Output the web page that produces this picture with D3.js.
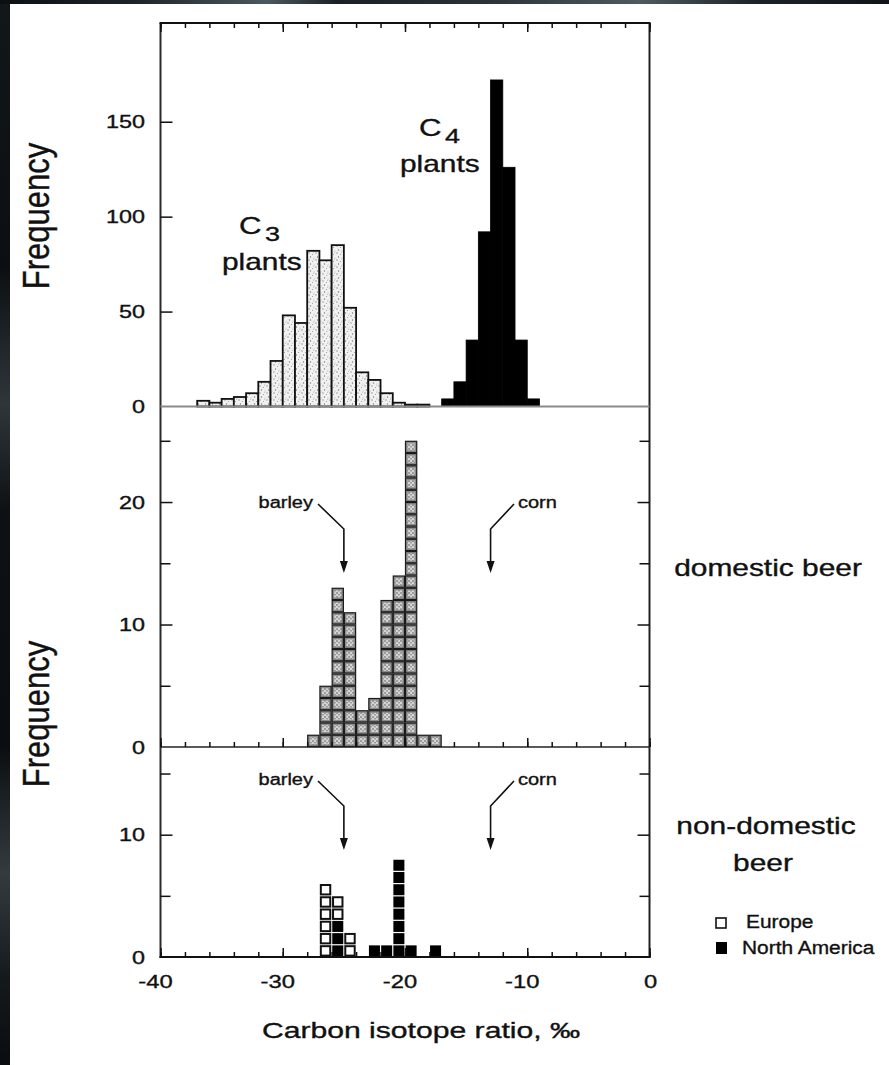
<!DOCTYPE html>
<html><head><meta charset="utf-8">
<script src="https://cdn.jsdelivr.net/npm/d3@7"></script>
<style>
html,body{margin:0;padding:0;background:#fff;}
svg{display:block;}
text{font-family:"Liberation Sans",Arial,Helvetica,sans-serif;fill:#111;stroke:#111;stroke-width:0.35px;}
</style>
</head><body>
<svg id="chart" width="889" height="1065"></svg>
<script>
// ---------------- data ----------------
const c3BinStart = [-37,-36,-35,-34,-33,-32,-31,-30,-29,-28,-27,-26,-25,-24,-23,-22,-21,-20,-19];
const c3Freq     = [3,2,4,5,7,13,24,48,44,82,77,85,52,18,14,7,2,1,1];
const c4BinStart = [-17,-16,-15,-14,-13,-12,-11,-10];
const c4Freq     = [4,13,35,92,172,126,35,4];
const domesticBinStart = [-28,-27,-26,-25,-24,-23,-22,-21,-20,-19,-18];
const domesticFreq     = [1,5,13,11,3,4,12,14,25,1,1];
const nonDomBinStart     = [-27,-26,-25,-23,-22,-21,-20,-18];
const nonDomNorthAmerica = [0,3,0,1,1,8,1,1];
const nonDomEurope       = [6,2,2,0,0,0,0,0];
const xTickValues = [-40,-30,-20,-10,0];
const xMinorTicks = d3.range(-40, 1, 2);
const topYTicks = [0,50,100,150];
const midYTicks = [0,10,20];
const midYMinor = [5,15,25];
const botYTicks = [0,10];
const botYMinor = [5,15];
const arrowTargets = [-25,-13];
const arrowLabels = ["barley","corn"];
const legendLabels = ["Europe","North America"];

// ---------------- layout ----------------
const svg = d3.select("#chart");
const L = 160.5, R = 649.5, TOP = 23, Z1 = 406.5, Z2 = 747, Z3 = 957;
const x = d3.scaleLinear([-40,0],[L,R]);
const yTop = d3.scaleLinear([0,202],[Z1,TOP]);
const yMid = d3.scaleLinear([0,27.8],[Z2,Z1]);
const yBot = d3.scaleLinear([0,17.17],[Z3,Z2]);

svg.append("rect").attr("width",889).attr("height",1065).attr("fill","#fff");

const defs = svg.append("defs");
const gl = defs.append("linearGradient").attr("id","leftBand").attr("x1",0).attr("y1",0).attr("x2",0).attr("y2",1);
[[0,"#12171a"],[0.25,"#0b0f12"],[0.38,"#2f363b"],[0.48,"#0d1114"],[0.7,"#0a0e10"],[0.82,"#343b40"],[0.92,"#14191c"],[1,"#0a0d0f"]]
  .forEach(s=>gl.append("stop").attr("offset",s[0]).attr("stop-color",s[1]));
const gt = defs.append("linearGradient").attr("id","topBand").attr("x1",0).attr("y1",0).attr("x2",1).attr("y2",0);
[[0,"#0b0f12"],[0.15,"#1d2429"],[0.3,"#4a5862"],[0.38,"#1a2025"],[0.55,"#2a333a"],[0.72,"#4d5a63"],[0.85,"#1c2328"],[1,"#101417"]]
  .forEach(s=>gt.append("stop").attr("offset",s[0]).attr("stop-color",s[1]));

const p1 = defs.append("pattern").attr("id","stipple").attr("patternUnits","userSpaceOnUse").attr("width",7).attr("height",7);
p1.append("rect").attr("width",7).attr("height",7).attr("fill","#f1f1f1");
[[1,1,0.7,"#888"],[4.5,2.5,0.6,"#999"],[2.5,5,0.7,"#7a7a7a"],[6,6,0.5,"#aaa"],[5.5,0.5,0.4,"#999"]]
  .forEach(d=>p1.append("circle").attr("cx",d[0]).attr("cy",d[1]).attr("r",d[2]).attr("fill",d[3]));
const p2 = defs.append("pattern").attr("id","speck").attr("patternUnits","userSpaceOnUse").attr("width",4).attr("height",4);
p2.append("rect").attr("width",4).attr("height",4).attr("fill","#d4d4d4");
[[1,1,0.8,"#555"],[3,2.8,0.7,"#666"]].forEach(d=>p2.append("circle").attr("cx",d[0]).attr("cy",d[1]).attr("r",d[2]).attr("fill",d[3]));

svg.append("rect").attr("x",0).attr("y",0).attr("width",10).attr("height",1065).attr("fill","url(#leftBand)");
svg.append("rect").attr("x",0).attr("y",0).attr("width",889).attr("height",4).attr("fill","url(#topBand)");

function txt(px,py,s,size,anchor,sx){
  return svg.append("text").attr("transform",`translate(${px},${py}) scale(${sx},1)`)
    .attr("text-anchor",anchor).attr("font-size",size).text(s);
}

// ---------------- top panel ----------------
const gTop = svg.append("g");
gTop.selectAll("rect.c3").data(c3BinStart).join("rect").attr("class","c3")
  .attr("x",d=>x(d)).attr("width",d=>x(d+1)-x(d))
  .attr("y",(d,i)=>yTop(c3Freq[i])).attr("height",(d,i)=>yTop(0)-yTop(c3Freq[i]))
  .attr("fill","url(#stipple)").attr("stroke","#111").attr("stroke-width",1.8);
gTop.selectAll("rect.c4").data(c4BinStart).join("rect").attr("class","c4")
  .attr("x",d=>x(d)).attr("width",d=>x(d+1)-x(d))
  .attr("y",(d,i)=>yTop(c4Freq[i])).attr("height",(d,i)=>yTop(0)-yTop(c4Freq[i]))
  .attr("fill","#000").attr("stroke","#000").attr("stroke-width",0.8);

// ---------------- middle panel ----------------
const gMid = svg.append("g");
domesticBinStart.forEach((b,i)=>{
  d3.range(domesticFreq[i]).forEach(k=>{
    const x0 = x(b), w = x(b+1)-x(b), y0 = yMid(k+1), h = yMid(k)-yMid(k+1);
    gMid.append("rect").attr("x",x0+0.5).attr("y",y0+0.5).attr("width",w-1).attr("height",h-1)
      .attr("fill","#8a8a8a").attr("stroke","#1a1a1a").attr("stroke-width",1.2);
    gMid.append("rect").attr("x",x0+2.6).attr("y",y0+2.6).attr("width",w-5.2).attr("height",h-5.2)
      .attr("fill","url(#speck)");
  });
});

// ---------------- bottom panel ----------------
const gBot = svg.append("g");
nonDomBinStart.forEach((b,i)=>{
  const x0 = x(b), w = x(b+1)-x(b);
  d3.range(nonDomNorthAmerica[i]).forEach(k=>{
    gBot.append("rect").attr("x",x0+0.6).attr("y",yBot(k+1)+0.6).attr("width",w-1.2).attr("height",yBot(k)-yBot(k+1)-1.2)
      .attr("fill","#000");
  });
  d3.range(nonDomEurope[i]).forEach(k=>{
    const kk = k + nonDomNorthAmerica[i];
    gBot.append("rect").attr("x",x0+1.4).attr("y",yBot(kk+1)+1.4).attr("width",w-2.8).attr("height",yBot(kk)-yBot(kk+1)-2.8)
      .attr("fill","#fff").attr("stroke","#111").attr("stroke-width",2);
  });
});

// ---------------- frame lines ----------------
const line = (x1,y1,x2,y2,c,w)=>svg.append("line").attr("x1",x1).attr("y1",y1).attr("x2",x2).attr("y2",y2).attr("stroke",c).attr("stroke-width",w);
line(L-1,TOP,R+1,TOP,"#111",2);
line(L,TOP,L,Z3+1,"#2a2a2a",2);
line(R,TOP,R,Z3+1,"#222",2);
line(L,Z1,R,Z1,"#8a8a8a",2);
line(L,Z2,R,Z2,"#222",1.6);
line(L-1,Z3,R+1,Z3,"#111",2);

// ---------------- ticks ----------------
function ticks(axis, tx, ty){
  const g = svg.append("g").attr("transform",`translate(${tx},${ty})`).call(axis);
  g.select(".domain").remove();
  g.selectAll("line").attr("stroke","#111").attr("stroke-width",1.5);
  g.selectAll("text").remove();
}
ticks(d3.axisTop(x).tickValues(xMinorTicks).tickSizeInner(-5).tickSizeOuter(0), 0, TOP);
ticks(d3.axisTop(x).tickValues(xTickValues).tickSizeInner(-9).tickSizeOuter(0), 0, TOP);
ticks(d3.axisBottom(x).tickValues(xMinorTicks).tickSizeInner(-5).tickSizeOuter(0), 0, Z2);
ticks(d3.axisBottom(x).tickValues(xTickValues).tickSizeInner(-9).tickSizeOuter(0), 0, Z2);
ticks(d3.axisBottom(x).tickValues(xMinorTicks).tickSizeInner(-5).tickSizeOuter(0), 0, Z3);
ticks(d3.axisBottom(x).tickValues(xTickValues).tickSizeInner(-9).tickSizeOuter(0), 0, Z3);
ticks(d3.axisLeft(yTop).tickValues(topYTicks.filter(v=>v>0)).tickSizeInner(-12).tickSizeOuter(0), L, 0);
ticks(d3.axisLeft(yMid).tickValues(midYTicks.filter(v=>v>0)).tickSizeInner(-12).tickSizeOuter(0), L, 0);
ticks(d3.axisLeft(yMid).tickValues(midYMinor).tickSizeInner(-10).tickSizeOuter(0), L, 0);
ticks(d3.axisLeft(yBot).tickValues(botYTicks.filter(v=>v>0)).tickSizeInner(-12).tickSizeOuter(0), L, 0);
ticks(d3.axisLeft(yBot).tickValues(botYMinor).tickSizeInner(-10).tickSizeOuter(0), L, 0);
ticks(d3.axisRight(yMid).tickValues(midYTicks.filter(v=>v>0)).tickSizeInner(-12).tickSizeOuter(0), R, 0);
ticks(d3.axisRight(yMid).tickValues(midYMinor).tickSizeInner(-10).tickSizeOuter(0), R, 0);
ticks(d3.axisRight(yBot).tickValues(botYTicks.filter(v=>v>0)).tickSizeInner(-12).tickSizeOuter(0), R, 0);
ticks(d3.axisRight(yBot).tickValues(botYMinor).tickSizeInner(-10).tickSizeOuter(0), R, 0);

// ---------------- tick labels ----------------
topYTicks.forEach(v=>txt(145, yTop(v)+6.5, String(v), 18, "end", 1.3));
midYTicks.forEach(v=>txt(145, yMid(v)+6.5, String(v), 18, "end", 1.3));
botYTicks.forEach(v=>txt(145, yBot(v)+6.5, String(v), 18, "end", 1.3));
xTickValues.forEach(v=>txt(x(v)-(v<0?5:-1), 988, String(v), 19, "middle", 1.25));

// ---------------- axis titles ----------------
txt(421, 1038, "Carbon isotope ratio, \u2030", 22, "middle", 1.37);
svg.append("text").attr("transform","translate(49,216) scale(1.2,1) rotate(-90)")
  .attr("text-anchor","middle").attr("font-size",31).text("Frequency");
svg.append("text").attr("transform","translate(49,714) scale(1.2,1) rotate(-90)")
  .attr("text-anchor","middle").attr("font-size",31).text("Frequency");

// ---------------- panel labels ----------------
txt(239, 234, "C", 24, "start", 1.3);
txt(265, 241, "3", 20, "start", 1.35);
txt(222, 270, "plants", 23, "start", 1.3);
txt(419, 136, "C", 24, "start", 1.3);
txt(445, 143, "4", 20, "start", 1.35);
txt(400, 172, "plants", 23, "start", 1.3);

txt(768, 576, "domestic beer", 23, "middle", 1.3);
txt(766, 834, "non-domestic", 23, "middle", 1.3);
txt(763, 871, "beer", 23, "middle", 1.3);

// ---------------- arrows ----------------
function arrows(baseY){
  const bx = x(arrowTargets[0]), cx = x(arrowTargets[1]);
  txt(313, baseY, arrowLabels[0], 16, "end", 1.25);
  txt(518, baseY, arrowLabels[1], 16, "start", 1.25);
  const pth = d3.path();
  pth.moveTo(318, baseY-4); pth.lineTo(bx, baseY+21); pth.lineTo(bx, baseY+54);
  pth.moveTo(514, baseY-4); pth.lineTo(cx, baseY+21); pth.lineTo(cx, baseY+54);
  svg.append("path").attr("d",pth.toString()).attr("fill","none").attr("stroke","#111").attr("stroke-width",1.6);
  [bx,cx].forEach(ax=>{
    svg.append("path").attr("d",`M${ax-4},${baseY+53} L${ax+4},${baseY+53} L${ax},${baseY+65} Z`).attr("fill","#111");
  });
}
arrows(508);
arrows(785);

// ---------------- legend ----------------
svg.append("rect").attr("x",716).attr("y",918).attr("width",10).attr("height",10)
  .attr("fill","#fff").attr("stroke","#111").attr("stroke-width",1.6);
svg.append("rect").attr("x",716).attr("y",942).attr("width",11).attr("height",12).attr("fill","#000");
txt(746, 928, legendLabels[0], 19, "start", 1.1);
txt(742, 954, legendLabels[1], 19, "start", 1.1);
</script>
</body></html>
